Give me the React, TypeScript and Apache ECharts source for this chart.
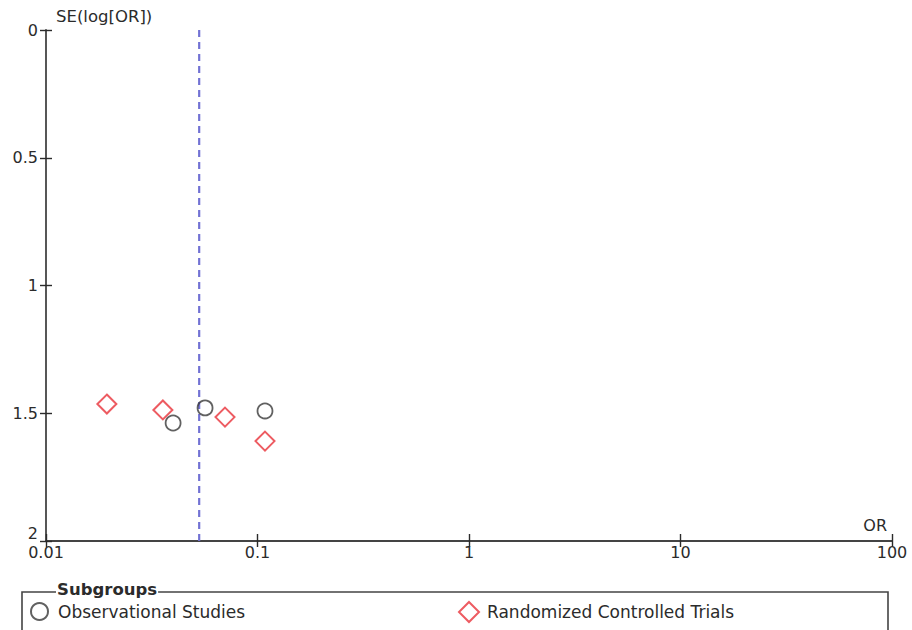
import React, { useEffect, useRef } from "react";
import * as echarts from "echarts";

// Study estimates: odds ratio and standard error of log(OR)
const obsOR = [0.0399, 0.0565, 0.1085];
const obsSE = [1.538, 1.479, 1.491];
const rctOR = [0.0194, 0.0357, 0.0702, 0.1085];
const rctSE = [1.464, 1.487, 1.515, 1.609];
const pooledOR = 0.053;

const xTicks = [0.01, 0.1, 1, 10, 100];
const yTicks = [0, 0.5, 1, 1.5, 2];

const FONT = "'DejaVu Sans', Verdana, sans-serif";
const INK = "#2b2b2b";
const GRID = { left: 46, top: 30, right: 20, bottom: 89 };

export default function App() {
  const ref = useRef<HTMLDivElement>(null);

  useEffect(() => {
    if (!ref.current) return;
    const chart = echarts.init(ref.current, undefined, { renderer: "svg" });

    const axisLine = { show: true, onZero: false, lineStyle: { color: "#444", width: 1.8 } };
    // invisible line so the overlay axes only contribute their ticks
    const hiddenLine = { show: true, onZero: false, lineStyle: { color: "rgba(0,0,0,0)", width: 0 } };
    const tickStyle = { color: INK, width: 1.4 };
    const xLabel = (v: number) =>
      String(xTicks.find((t) => Math.abs(Math.log10(t) - Math.log10(v)) < 1e-6) ?? v);
    const xRange = { min: xTicks[0], max: xTicks[xTicks.length - 1] };
    const yRange = { min: yTicks[0], max: yTicks[yTicks.length - 1], interval: 0.5 };

    chart.setOption({
      animation: false,
      backgroundColor: "#fff",
      textStyle: { fontFamily: FONT },
      // the second grid overlays the first and carries the inner half of the crossing ticks
      grid: [GRID, GRID],
      xAxis: [
        {
          type: "log",
          logBase: 10,
          gridIndex: 0,
          position: "bottom",
          ...xRange,
          axisLine,
          axisTick: { show: true, length: 6, lineStyle: tickStyle },
          axisLabel: { color: INK, fontSize: 16, fontFamily: FONT, margin: 3, formatter: xLabel },
          splitLine: { show: false },
          minorTick: { show: false },
        },
        {
          type: "log",
          logBase: 10,
          gridIndex: 1,
          position: "bottom",
          ...xRange,
          axisLine: hiddenLine,
          axisTick: { show: true, inside: true, length: 7, lineStyle: tickStyle },
          axisLabel: { show: false },
          splitLine: { show: false },
          minorTick: { show: false },
        },
      ],
      yAxis: [
        {
          type: "value",
          inverse: true,
          gridIndex: 0,
          position: "left",
          ...yRange,
          axisLine,
          axisTick: { show: true, length: 6, lineStyle: tickStyle },
          axisLabel: {
            color: INK,
            fontSize: 16,
            fontFamily: FONT,
            margin: 8,
            verticalAlignMaxLabel: "bottom",
          },
          splitLine: { show: false },
        },
        {
          type: "value",
          inverse: true,
          gridIndex: 1,
          position: "left",
          ...yRange,
          axisLine: hiddenLine,
          axisTick: { show: true, inside: true, length: 6, lineStyle: tickStyle },
          axisLabel: { show: false },
          splitLine: { show: false },
        },
      ],
      legend: [
        {
          data: ["Observational Studies"],
          left: 30,
          top: 602,
          padding: 0,
          itemWidth: 17,
          itemHeight: 17,
          textStyle: { color: INK, fontSize: 17, fontFamily: FONT, padding: [0, 0, 0, 5] },
        },
        {
          data: ["Randomized Controlled Trials"],
          left: 458,
          top: 601,
          padding: 0,
          itemWidth: 20,
          itemHeight: 20,
          textStyle: { color: INK, fontSize: 17, fontFamily: FONT, padding: [0, 0, 0, 3] },
        },
      ],
      graphic: [
        {
          type: "rect",
          shape: { x: 22, y: 592, width: 866, height: 60 },
          style: { fill: "none", stroke: "#444", lineWidth: 1.6 },
          z: 1,
        },
        {
          type: "text",
          x: 56,
          y: 589,
          style: {
            text: "Subgroups",
            font: `bold 16.5px ${FONT}`,
            fill: INK,
            verticalAlign: "middle",
            backgroundColor: "#fff",
            padding: [0, 1],
          },
          z: 2,
        },
        {
          type: "text",
          x: 56,
          y: 16,
          style: { text: "SE(log[OR])", font: `16.5px ${FONT}`, fill: INK, verticalAlign: "middle" },
        },
        {
          type: "text",
          x: 887,
          y: 525,
          style: { text: "OR", font: `16px ${FONT}`, fill: INK, align: "right", verticalAlign: "middle" },
        },
      ],
      series: [
        {
          // pooled estimate, drawn on the overlay grid (same scales as the main one)
          name: "Pooled",
          type: "line",
          xAxisIndex: 1,
          yAxisIndex: 1,
          data: [
            [pooledOR, yTicks[0]],
            [pooledOR, yTicks[yTicks.length - 1]],
          ],
          symbol: "none",
          silent: true,
          lineStyle: { color: "#7272d4", width: 2.2, type: [7, 5] },
          z: 2,
        },
        {
          name: "Observational Studies",
          type: "scatter",
          symbol: "circle",
          symbolSize: 15,
          itemStyle: { color: "rgba(0,0,0,0)", borderColor: "#3a3a3a", borderWidth: 1.8 },
          data: obsOR.map((v, i) => [v, obsSE[i]]),
          z: 3,
        },
        {
          name: "Randomized Controlled Trials",
          type: "scatter",
          symbol: "diamond",
          symbolSize: 19,
          itemStyle: { color: "rgba(0,0,0,0)", borderColor: "#e8323a", borderWidth: 2 },
          data: rctOR.map((v, i) => [v, rctSE[i]]),
          z: 3,
        },
      ],
    });

    return () => chart.dispose();
  }, []);

  return (
    <div
      ref={ref}
      style={{ position: "fixed", left: 0, top: 0, width: 912, height: 630, background: "#fff" }}
    />
  );
}
